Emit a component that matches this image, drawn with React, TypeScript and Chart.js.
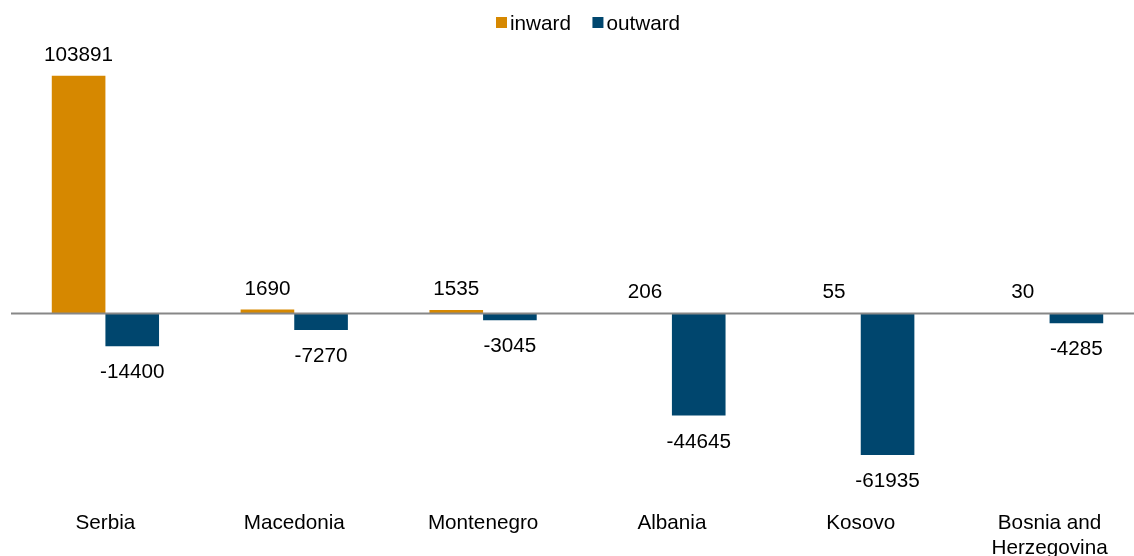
import React, { useEffect, useRef } from "react";
import { Chart, registerables } from "chart.js";

Chart.register(...registerables);

const categories: (string | string[])[] = [
  "Serbia",
  "Macedonia",
  "Montenegro",
  "Albania",
  "Kosovo",
  ["Bosnia and", "Herzegovina"],
];
const inward = [103891, 1690, 1535, 206, 55, 30];
const outward = [-14400, -7270, -3045, -44645, -61935, -4285];
const seriesNames = ["inward", "outward"];
const seriesColors = ["#D68800", "#00466E"];

const Y_MIN = -82000;
const Y_MAX = 119500;

const FONT_FAMILY = "'Liberation Sans', Arial, sans-serif";
const FONT_SIZE = 20.7;

const zeroLinePlugin = {
  id: "zeroLine",
  afterDatasetsDraw(chart: any) {
    const { ctx, chartArea, scales } = chart;
    const y = scales.y.getPixelForValue(0);
    ctx.save();
    ctx.strokeStyle = "#878787";
    ctx.lineWidth = 2;
    ctx.beginPath();
    ctx.moveTo(chartArea.left, y);
    ctx.lineTo(chartArea.right, y);
    ctx.stroke();
    ctx.restore();
  },
};

const valueLabelPlugin = {
  id: "valueLabels",
  afterDraw(chart: any) {
    const { ctx } = chart;
    ctx.save();
    ctx.font = `${FONT_SIZE}px ${FONT_FAMILY}`;
    ctx.fillStyle = "#000";
    ctx.textAlign = "center";
    ctx.textBaseline = "alphabetic";
    chart.data.datasets.forEach((ds: any, di: number) => {
      const meta = chart.getDatasetMeta(di);
      meta.data.forEach((bar: any, i: number) => {
        const v = ds.data[i];
        const txt = String(v);
        if (v >= 0) {
          ctx.fillText(txt, bar.x, bar.y - 15);
        } else {
          ctx.fillText(txt, bar.x, bar.y + 32);
        }
      });
    });
    ctx.restore();
  },
};

const legendPlugin = {
  id: "customLegend",
  afterDraw(chart: any) {
    const { ctx } = chart;
    ctx.save();
    ctx.font = `${FONT_SIZE}px ${FONT_FAMILY}`;
    ctx.textAlign = "left";
    ctx.textBaseline = "alphabetic";
    let x = 496;
    chart.data.datasets.forEach((ds: any) => {
      ctx.fillStyle = ds.backgroundColor;
      ctx.fillRect(x, 17, 11, 11);
      ctx.fillStyle = "#000";
      ctx.fillText(ds.label, x + 14, 29.5);
      const w = ctx.measureText(ds.label).width;
      x += 14 + w + 21.5;
    });
    ctx.restore();
  },
};

export default function App() {
  const canvasRef = useRef<HTMLCanvasElement | null>(null);

  useEffect(() => {
    if (!canvasRef.current) return;
    const chart = new Chart(canvasRef.current, {
      type: "bar",
      data: {
        labels: categories,
        datasets: [
          {
            label: seriesNames[0],
            data: inward,
            backgroundColor: seriesColors[0],
            categoryPercentage: 0.568,
            barPercentage: 1,
          },
          {
            label: seriesNames[1],
            data: outward,
            backgroundColor: seriesColors[1],
            categoryPercentage: 0.568,
            barPercentage: 1,
          },
        ],
      },
      options: {
        responsive: false,
        animation: false,
        layout: { padding: { left: 11, right: 0, top: 40, bottom: 0 } },
        plugins: {
          legend: { display: false },
          tooltip: { enabled: false },
        },
        scales: {
          x: {
            grid: { display: false, drawTicks: false },
            border: { display: false },
            afterFit(scale: any) {
              scale.height = 55;
            },
            ticks: {
              color: "#000",
              padding: 9,
              maxRotation: 0,
              autoSkip: false,
              font: { family: FONT_FAMILY, size: FONT_SIZE, lineHeight: 1.24 },
            },
          },
          y: {
            display: false,
            min: Y_MIN,
            max: Y_MAX,
          },
        },
      },
      plugins: [zeroLinePlugin, valueLabelPlugin, legendPlugin],
    });
    return () => chart.destroy();
  }, []);

  return (
    <div
      style={{
        position: "absolute",
        left: 0,
        top: 0,
        width: 1134,
        height: 556,
        overflow: "hidden",
        background: "#fff",
      }}
    >
      <canvas ref={canvasRef} width={1144} height={556} style={{ width: 1144, height: 556 }} />
    </div>
  );
}
